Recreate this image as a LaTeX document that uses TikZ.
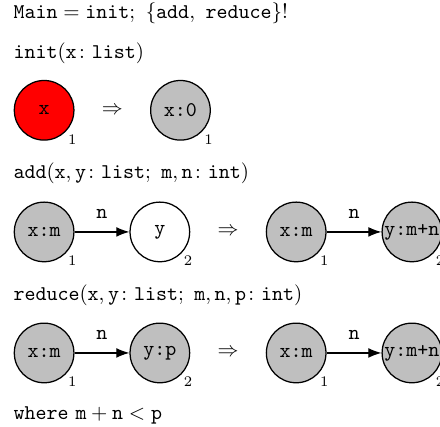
\documentclass[tikz,border=0pt]{standalone}
\usepackage{amsmath}
\usetikzlibrary{arrows.meta,positioning}
\tikzset{vertex/.style={circle,draw,semithick,minimum size=1cm,inner sep=0pt,font=\ttfamily},root/.style={vertex,fill=red},marked/.style={vertex,fill=lightgray},fresh/.style={vertex,fill=white},idx/.style={label={[font=\scriptsize,inner sep=1pt]south east:#1}},heading/.style={anchor=west,inner sep=0pt},yields/.style={inner sep=0pt},edgearrow/.style={-{Latex[length=2.2mm]},semithick}}
\begin{document}
\begin{tikzpicture}[node distance=4.5mm]
\useasboundingbox (0,0) rectangle (7.38,-7.16);
\node[heading] (main) at (0.22,-0.22) {$\mathtt{Main} = \mathtt{init};\ \{\mathtt{add},\ \mathtt{reduce}\}!$};
% init
\node[heading] (initlab) at (0.22,-0.89) {$\mathtt{init}(\mathtt{x}\colon \mathtt{list})$};
\node[root,idx=1] (i1) at (0.74,-1.85) {x};
\node[yields,right=of i1] (t1) {$\Rightarrow$};
\node[marked,idx=1,right=of t1] (i2) {x:0};
% add
\node[heading] (addlab) at (0.22,-2.90) {$\mathtt{add}(\mathtt{x}, \mathtt{y}\colon \mathtt{list};\ \mathtt{m}, \mathtt{n}\colon \mathtt{int})$};
\node[marked,idx=1] (a1) at (0.74,-3.89) {x:m};
\node[fresh,idx=2,right=9.2mm of a1] (a2) {y};
\node[yields,right=of a2] (t2) {$\Rightarrow$};
\node[marked,idx=1,right=of t2] (a3) {x:m};
\node[marked,idx=2,right=9.2mm of a3] (a4) {y:m+n};
\draw[edgearrow] (a1) -- node[above=1mm] {\texttt{n}} (a2);
\draw[edgearrow] (a3) -- node[above=1mm] {\texttt{n}} (a4);
% reduce
\node[heading] (redlab) at (0.22,-4.95) {$\mathtt{reduce}(\mathtt{x}, \mathtt{y}\colon \mathtt{list};\ \mathtt{m}, \mathtt{n}, \mathtt{p}\colon \mathtt{int})$};
\node[marked,idx=1] (r1) at (0.74,-5.92) {x:m};
\node[marked,idx=2,right=9.2mm of r1] (r2) {y:p};
\node[yields,right=of r2] (t3) {$\Rightarrow$};
\node[marked,idx=1,right=of t3] (r3) {x:m};
\node[marked,idx=2,right=9.2mm of r3] (r4) {y:m+n};
\draw[edgearrow] (r1) -- node[above=1mm] {\texttt{n}} (r2);
\draw[edgearrow] (r3) -- node[above=1mm] {\texttt{n}} (r4);
\node[heading] (where) at (0.22,-6.96) {\texttt{where} $\mathtt{m}+\mathtt{n}<\mathtt{p}$};
\end{tikzpicture}
\end{document}
